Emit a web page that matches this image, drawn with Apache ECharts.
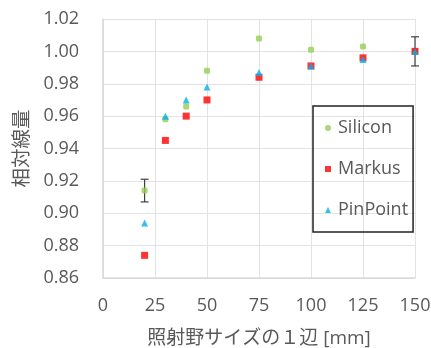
<!DOCTYPE html>
<html><head><meta charset="utf-8">
<script src="https://cdn.jsdelivr.net/npm/echarts@6/dist/echarts.min.js"></script>
<style>html,body{margin:0;padding:0;background:#fff}#c{width:431px;height:348px}</style>
</head><body><div id="c"></div>
<script>
const fieldSizes = [20, 30, 40, 50, 75, 100, 125, 150];
const silicon = [0.914, 0.958, 0.966, 0.988, 1.008, 1.001, 1.003, 1.000];
const markus  = [0.874, 0.945, 0.960, 0.970, 0.984, 0.991, 0.996, 1.000];
const pinpoint= [0.894, 0.960, 0.970, 0.978, 0.987, 0.991, 0.995, 1.000];
// error bars on Silicon: [x, y, half-width]
const siliconErrX = [20, 150];
const siliconErrY = [0.914, 1.000];
const siliconErr  = [0.007, 0.009];
const xTicks = [0, 25, 50, 75, 100, 125, 150];
const yTicks = [0.86, 0.88, 0.90, 0.92, 0.94, 0.96, 0.98, 1.00, 1.02];

const font = '"Open Sans", "Noto Sans CJK JP", sans-serif';
const gray = '#595959';
const chart = echarts.init(document.getElementById('c'));
const pts = a => fieldSizes.map((x, i) => [x, a[i]]);
chart.setOption({
  animation: false,
  textStyle: {fontFamily: font},
  grid: {left: 103, right: 16, top: 19, bottom: 70, containLabel: false, outerBoundsMode: 'none'},
  xAxis: {
    type: 'value', min: 0, max: 150, interval: 25,
    name: '照射野サイズの１辺 [mm]', nameLocation: 'middle', nameGap: 51,
    nameTextStyle: {fontSize: 19, color: gray, fontFamily: font},
    axisLine: {show: true, lineStyle: {color: '#d9d9d9', width: 1.5}},
    axisTick: {show: false},
    axisLabel: {fontSize: 18, color: gray, margin: 19, fontFamily: font,
      formatter: v => xTicks.includes(v) ? String(v) : ''},
    splitLine: {show: true, lineStyle: {color: '#e3e3e3', width: 1}}
  },
  yAxis: {
    type: 'value', min: 0.86, max: 1.02, interval: 0.02,
    name: '相対線量', nameLocation: 'middle', nameGap: 67, nameRotate: 90,
    nameTextStyle: {fontSize: 19.5, color: gray, fontFamily: font},
    axisLine: {show: true, lineStyle: {color: '#d9d9d9', width: 1.5}},
    axisTick: {show: false},
    axisLabel: {fontSize: 18, color: gray, margin: 24, fontFamily: font,
      formatter: v => {const t = yTicks.find(t => Math.abs(t - v) < 1e-6); return t !== undefined ? t.toFixed(2) : '';}},
    splitLine: {show: true, lineStyle: {color: '#e3e3e3', width: 1}}
  },
  legend: {
    orient: 'vertical', left: 313, top: 106,
    borderColor: '#222', borderWidth: 1.5,
    padding: [13, 5, 13, 12],
    itemGap: 23, itemWidth: 6, itemHeight: 6,
    textStyle: {fontSize: 18, color: gray, fontFamily: font, lineHeight: 18, padding: [0, 0, 0, 2]},
    data: [
      {name: 'Silicon', icon: 'circle'},
      {name: 'Markus', icon: 'rect'},
      {name: 'PinPoint', icon: 'triangle'}
    ]
  },
  series: [
    {
      type: 'custom', name: 'err', silent: true, z: 1,
      data: siliconErrX.map((x, i) => [x, siliconErrY[i], siliconErr[i]]),
      renderItem: (params, api) => {
        const x = api.value(0), y = api.value(1), e = api.value(2);
        const p1 = api.coord([x, y + e]), p2 = api.coord([x, y - e]);
        const w = 4;
        const st = {stroke: '#404040', lineWidth: 1.2};
        return {type: 'group', children: [
          {type: 'line', shape: {x1: p1[0], y1: p1[1], x2: p2[0], y2: p2[1]}, style: st},
          {type: 'line', shape: {x1: p1[0]-w, y1: p1[1], x2: p1[0]+w, y2: p1[1]}, style: st},
          {type: 'line', shape: {x1: p2[0]-w, y1: p2[1], x2: p2[0]+w, y2: p2[1]}, style: st}
        ]};
      }
    },
    {type: 'scatter', name: 'Silicon', data: pts(silicon), symbol: 'roundRect', symbolSize: 6,
      itemStyle: {color: '#92d050'}, z: 2},
    {type: 'scatter', name: 'Markus', data: pts(markus), symbol: 'rect', symbolSize: 7,
      itemStyle: {color: '#ff0000'}, z: 3},
    {type: 'scatter', name: 'PinPoint', data: pts(pinpoint), symbol: 'triangle', symbolSize: 7,
      itemStyle: {color: '#00b0f0'}, z: 4}
  ]
});
</script></body></html>
